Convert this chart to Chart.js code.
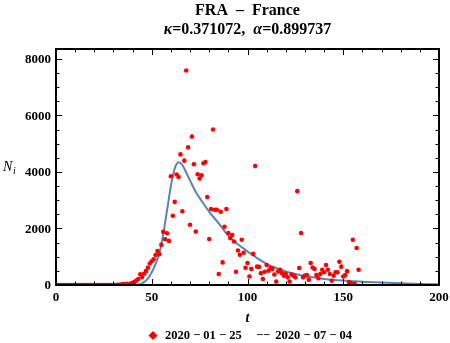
<!DOCTYPE html>
<html>
<head>
<meta charset="utf-8">
<script src="https://cdn.jsdelivr.net/npm/chart.js@4.4.0/dist/chart.umd.min.js"></script>
<style>
  html, body { margin: 0; padding: 0; background: #fff; }
  #box { width: 450px; height: 343px; }
</style>
</head>
<body>
<div id="box"><canvas id="fraChart"></canvas></div>
<script>
// daily new infections, t = 0 is 2020-01-25
const dailyCases = [
    0, 0, 0, 0, 0, 0, 0, 0, 0, 0,
    0, 0, 0, 0, 0, 0, 0, 0, 0, 0,
    0, 0, 0, 0, 0, 0, 0, 0, 0, 0,
    0, 2, 4, 10, 15, 30, 25, 45, 20, 55,
    80, 110, 160, 210, 380, 280, 400, 490, 610, 760,
    840, 910, 1060, 1200, 1090, 1420, 1880, 1620, 1830, 1560,
    3850, 2450, 2940, 3910, 3820, 4620, 2610, 4400, 7590, 4870,
    2130, 5250, 4270, 1890, 3920, 3770, 3880, 4310, 4350, 3110,
    1630, 2690, 5500, 2660, 2660, 390, 2590, 800, 2060, 2690,
    1840, 1660, 1770, 1540, 470, 1220, 1070, 1600, 1140, 610,
    780, 300, 570, 1100, 4210, 650, 640, 420, 210, 470,
    710, 510, 600, 570, 370, 120, 480, 540, 420, 330,
    390, 270, 120, 370, 330, 270, 3320, 600, 1840, 270,
    330, 350, 190, 780, 620, 570, 350, 240, 390, 540,
    450, 710, 540, 390, 150, 330, 450, 450, 820, 650,
    300, 350, 490, 100, 60, 1600, 40, 1310, 540
];

// fitted curve
const fitT = [0, 40, 42, 44, 46, 48, 50, 52, 54, 56, 58, 60, 62, 64, 66, 68, 70, 73, 76, 80,
    85, 90, 95, 100, 105, 110, 115, 120, 125, 130, 135, 140, 145, 150, 155, 160, 170, 180, 190, 200];
const fitN = [0, 0, 5, 30, 100, 230, 450, 750, 1120, 1800, 2650, 3500, 4120, 4340, 4240, 3980, 3700, 3290, 2980, 2590,
    2180, 1740, 1440, 1190, 950, 750, 600, 480, 390, 320, 265, 215, 180, 155, 135, 118, 85, 58, 38, 25];

const xTicks = [0, 50, 100, 150, 200];
const yTicks = [0, 2000, 4000, 6000, 8000];
const xRange = [0, 200];
const yRange = [0, 8350];
const legendDates = ['2020 \u2212 01 \u2212 25', '2020 \u2212 07 \u2212 04'];

const serif = '"Liberation Serif", "DejaVu Serif", serif';

function drawFrame(chart) {
    const ctx = chart.ctx;
    const a = chart.chartArea;
    const sx = chart.scales.x, sy = chart.scales.y;
    ctx.save();
    ctx.strokeStyle = '#000';
    ctx.lineWidth = 1;
    ctx.beginPath();
    for (let v = xRange[0]; v <= xRange[1]; v += 10) {
        const px = Math.round(sx.getPixelForValue(v)) + 0.5;
        const len = v % 50 === 0 ? 6 : 3.5;
        ctx.moveTo(px, a.bottom); ctx.lineTo(px, a.bottom - len);
        ctx.moveTo(px, a.top); ctx.lineTo(px, a.top + len);
    }
    for (let v = 0; v <= yRange[1]; v += 500) {
        const py = Math.round(sy.getPixelForValue(v)) + 0.5;
        const len = v % 2000 === 0 ? 6 : 3.5;
        ctx.moveTo(a.left, py); ctx.lineTo(a.left + len, py);
        ctx.moveTo(a.right, py); ctx.lineTo(a.right - len, py);
    }
    ctx.stroke();
    ctx.lineWidth = 2;
    ctx.strokeRect(a.left, a.top, a.right - a.left, a.bottom - a.top);

    ctx.fillStyle = '#000';
    ctx.font = 'bold 13px ' + serif;
    ctx.textBaseline = 'middle';
    ctx.textAlign = 'right';
    yTicks.forEach(v => {
        ctx.fillText(String(v), a.left - 5, sy.getPixelForValue(v) + 1);
    });
    ctx.textAlign = 'center';
    xTicks.forEach(v => {
        ctx.fillText(String(v), sx.getPixelForValue(v), a.bottom + 13);
    });

    // axis labels
    ctx.font = 'italic 14px ' + serif;
    ctx.textAlign = 'left';
    ctx.fillText('N', 3, 167);
    ctx.font = 'italic 10px ' + serif;
    ctx.fillText('i', 13, 171);
    ctx.font = 'italic bold 14px ' + serif;
    ctx.textAlign = 'center';
    ctx.fillText('t', (a.left + a.right) / 2, 318);

    // title
    const cx = (a.left + a.right) / 2;
    ctx.font = 'bold 16px ' + serif;
    ctx.fillText('FRA  \u2013  France', cx, 11);
    const parts = [
        ['italic bold 16px ', '\u03BA'], ['bold 16px ', '=0.371072,  '],
        ['italic bold 16px ', '\u03B1'], ['bold 16px ', '=0.899737']
    ];
    let total = 0;
    parts.forEach(p => { ctx.font = p[0] + serif; total += ctx.measureText(p[1]).width; });
    let x = cx - total / 2;
    ctx.textAlign = 'left';
    parts.forEach(p => {
        ctx.font = p[0] + serif;
        ctx.fillText(p[1], x, 30);
        x += ctx.measureText(p[1]).width;
    });

    // legend
    ctx.fillStyle = '#ff0000';
    ctx.beginPath();
    ctx.moveTo(153, 331); ctx.lineTo(157.5, 335.5); ctx.lineTo(153, 340); ctx.lineTo(148.5, 335.5);
    ctx.closePath();
    ctx.fill();
    ctx.fillStyle = '#000';
    ctx.font = 'bold 12.5px ' + serif;
    ctx.textAlign = 'left';
    ctx.fillText(legendDates[0], 165, 336);
    ctx.textAlign = 'center';
    ctx.fillText('\u2212\u2212', 263, 336);
    ctx.textAlign = 'right';
    ctx.fillText(legendDates[1], 352, 336);
    ctx.restore();
}

function initFraChart() {
    const points = dailyCases.map((v, i) => ({ x: i, y: v }));
    const curve = fitT.map((t, i) => ({ x: t, y: fitN[i] }));

    const config = {
        type: 'scatter',
        data: {
            datasets: [{
                label: 'cases',
                data: points,
                backgroundColor: '#ff0000',
                borderWidth: 0,
                pointRadius: 2.3,
                order: 1
            }, {
                type: 'line',
                label: 'fit',
                data: curve,
                borderColor: '#5e81b5',
                borderWidth: 2,
                pointRadius: 0,
                fill: false,
                cubicInterpolationMode: 'monotone',
                order: 2
            }]
        },
        options: {
            responsive: false,
            animation: false,
            layout: { padding: { left: 56, right: 11, top: 49, bottom: 58 } },
            plugins: { legend: { display: false }, tooltip: { enabled: false } },
            scales: {
                x: { type: 'linear', min: xRange[0], max: xRange[1], display: false },
                y: { type: 'linear', min: yRange[0], max: yRange[1], display: false }
            }
        },
        plugins: [{ id: 'frame', afterDraw: drawFrame }]
    };

    const canvas = document.getElementById('fraChart');
    canvas.width = 450;
    canvas.height = 343;
    new Chart(canvas, config);
}

initFraChart();
</script>
</body>
</html>
